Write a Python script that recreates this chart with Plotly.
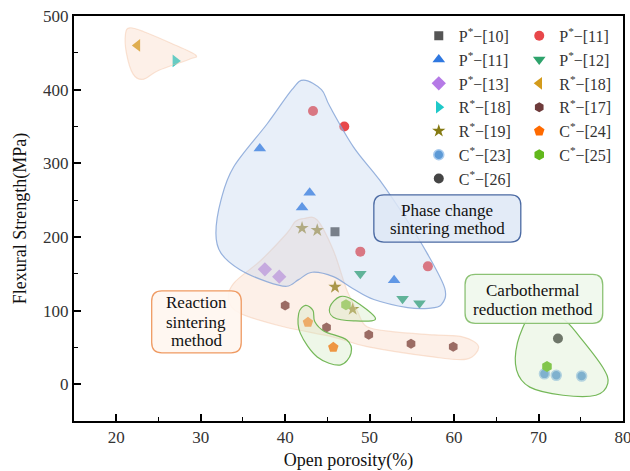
import plotly.graph_objects as go

# ---------------- data ----------------
p10_x = [45.9]; p10_y = [207]
p11c_x = [43.3, 47.0, 48.9, 56.9]; p11c_y = [371, 350, 180, 160]
p11t_x = [37.0, 42.9, 42.0, 52.9]; p11t_y = [320, 260, 240, 141]
p12_x = [48.9, 53.9, 55.9]; p12_y = [150, 116, 110]
p13_x = [37.6, 39.3]; p13_y = [156, 146]
r18l_x = [22.5]; r18l_y = [460]
r18r_x = [27.0]; r18r_y = [439]
r17_x = [40.0, 44.9, 49.9, 54.9, 59.9]; r17_y = [107, 77, 67, 55, 51]
r19_x = [42.0, 43.8, 45.9, 48.0]; r19_y = [212, 209, 132, 102]
c24_x = [42.7, 45.7]; c24_y = [84, 50]
c23_x = [70.7, 72.1, 75.1]; c23_y = [14, 12, 11]
c25_x = [47.2, 71.0]; c25_y = [108, 24]
c26_x = [72.3]; c26_y = [62]

x_ticks = [20, 30, 40, 50, 60, 70, 80]
y_ticks = [0, 100, 200, 300, 400, 500]

FONT = "Liberation Serif"

fig = go.Figure()

def add(name, xs, ys, symbol, color, legend, size=10, line=None):
    mk = dict(symbol=symbol, color=color, size=size)
    mk["line"] = line if line else dict(width=0)
    fig.add_trace(go.Scatter(x=xs, y=ys, mode="markers", name=name,
                             marker=mk, legend=legend))

def lab(letter, ref):
    return f"{letter}<sup>*</sup>−[{ref}]"

add(lab("P", 10), p10_x, p10_y, "square", "#555555", "legend", 9)
add(lab("P", 11), p11c_x, p11c_y, "circle", "#e8474a", "legend2", 10)
add(lab("P", 11), p11t_x, p11t_y, "triangle-up", "#2f78e0", "legend", 11)
add(lab("P", 12), p12_x, p12_y, "triangle-down", "#2ea36c", "legend2", 11)
add(lab("P", 13), p13_x, p13_y, "diamond", "#b57ae6", "legend", 11)
add(lab("R", 18), r18l_x, r18l_y, "triangle-left", "#d39b1c", "legend2", 11)
add(lab("R", 18), r18r_x, r18r_y, "triangle-right", "#1fc9c9", "legend", 11)
add(lab("R", 17), r17_x, r17_y, "hexagon", "#6e3b3b", "legend2", 10)
add(lab("R", 19), r19_x, r19_y, "star", "#857a12", "legend", 10)
add(lab("C", 24), c24_x, c24_y, "pentagon", "#ff6a00", "legend2", 11)
add(lab("C", 23), c23_x, c23_y, "circle", "#5d9ad6", "legend", 10,
    line=dict(width=1.5, color="#a9cbee"))
add(lab("C", 25), c25_x, c25_y, "hexagon", "#62b81c", "legend2", 11)
add(lab("C", 26), c26_x, c26_y, "circle", "#454545", "legend", 10)

# ---------------- region outlines (smoothed closed curves) ----------------
def smooth_path(pts):
    n = len(pts)
    d = f"M{pts[0][0]},{pts[0][1]}"
    for i in range(n):
        p0 = pts[(i - 1) % n]; p1 = pts[i]; p2 = pts[(i + 1) % n]; p3 = pts[(i + 2) % n]
        c1 = (p1[0] + (p2[0] - p0[0]) / 6, p1[1] + (p2[1] - p0[1]) / 6)
        c2 = (p2[0] - (p3[0] - p1[0]) / 6, p2[1] - (p3[1] - p1[1]) / 6)
        d += f" C{c1[0]:.3f},{c1[1]:.3f} {c2[0]:.3f},{c2[1]:.3f} {p2[0]},{p2[1]}"
    return d + " Z"

blue_pts = [(42.2, 413), (44.3, 400), (45.3, 377), (48.1, 322), (51.2, 277), (54.4, 223),
            (56.8, 178), (58.9, 130), (58.5, 108), (57, 103), (54.5, 104), (50.5, 115),
            (48, 130), (45.7, 146), (43.2, 152), (41.6, 142), (40.2, 133), (37.9, 139),
            (34.7, 155), (32.4, 178), (31.8, 205), (32.4, 250), (33.9, 295), (37.9, 354),
            (40.8, 400)]
orange_pts = [(42.2, 225), (43.8, 223), (45.7, 182), (47.3, 128), (48.6, 98), (49.7, 78),
              (53, 71), (57.6, 67), (61.1, 64), (62.9, 51), (61.5, 34), (57.5, 37),
              (49.7, 51), (45.7, 64), (39.8, 78), (34.7, 96), (33.3, 114), (33.9, 137),
              (37.1, 168), (40.2, 205), (41.2, 221)]
topleft_pts = [(21.6, 484), (23.2, 479), (26.5, 463), (29.4, 447), (28.6, 441), (25, 426),
               (23.2, 414), (22.0, 421), (21.2, 450), (21.1, 476)]
green_small_pts = [(45.3, 105), (46.5, 119), (48.1, 114), (50.7, 89), (48.1, 86), (45.7, 91)]
green_j_pts = [(42.4, 107), (43.3, 100), (43.5, 85), (44.6, 72), (47.3, 60), (47.8, 42),
               (46.5, 26), (43.8, 37), (41.8, 69), (41.6, 96)]
carbo_pts = [(68.9, 92), (70.5, 96), (72.9, 89), (74.9, 64), (77.6, 23), (78.2, 1),
             (76.8, -15), (72.9, -15), (68.96, -4), (67.4, 19), (67.5, 56)]

regions = [
    (orange_pts, "rgba(248,210,185,0.33)", "rgba(244,195,165,0.45)"),
    (topleft_pts, "rgba(248,210,185,0.33)", "rgba(244,195,165,0.45)"),
    (blue_pts, "rgba(190,208,238,0.35)", "rgba(128,160,214,0.8)"),
    (green_small_pts, "rgba(205,232,190,0.35)", "rgba(110,180,80,0.95)"),
    (green_j_pts, "rgba(205,232,190,0.35)", "rgba(110,180,80,0.95)"),
    (carbo_pts, "rgba(205,232,190,0.3)", "rgba(110,180,80,0.95)"),
]
shapes = []
for pts, fill, edge in regions:
    shapes.append(dict(type="path", path=smooth_path(pts), xref="x", yref="y",
                       fillcolor=fill, line=dict(color=edge, width=1.2), layer="above"))

# ---------------- labelled boxes ----------------
def rounded_rect(x0, y0, x1, y1, rx, ry):
    return (f"M{x0+rx},{y0} L{x1-rx},{y0} Q{x1},{y0} {x1},{y0+ry} "
            f"L{x1},{y1-ry} Q{x1},{y1} {x1-rx},{y1} L{x0+rx},{y1} "
            f"Q{x0},{y1} {x0},{y1-ry} L{x0},{y0+ry} Q{x0},{y0} {x0+rx},{y0} Z")

boxes = [
    ((50.5, 193, 67.9, 257), "rgba(222,231,246,0.85)", "#4b6aa3",
     ["Phase change", "sintering method"], 59.2, [236.4, 211.5]),
    ((24.2, 42.5, 34.8, 126.8), "rgba(255,246,240,0.9)", "#ef9a62",
     ["Reaction", "sintering", "method"], 29.5, [110.5, 83.3, 58.8]),
    ((61.3, 82.5, 77.6, 149), "rgba(240,248,236,0.9)", "#8cc274",
     ["Carbothermal", "reduction method"], 69.4, [127.7, 101.5]),
]
annotations = []
for (x0, y0, x1, y1), fill, edge, lines, tx, tys in boxes:
    shapes.append(dict(type="path", path=rounded_rect(x0, y0, x1, y1, 1.2, 14),
                       xref="x", yref="y", fillcolor=fill,
                       line=dict(color=edge, width=1.3), layer="above"))
    for t, ty in zip(lines, tys):
        annotations.append(dict(x=tx, y=ty, xref="x", yref="y", text=t, showarrow=False,
                                font=dict(family=FONT, size=17, color="#111111")))

axis_common = dict(showline=True, linecolor="black", linewidth=2, mirror=True,
                   ticks="inside", ticklen=7, tickwidth=1.5, tickcolor="black",
                   showgrid=False, zeroline=False, automargin=False,
                   ticklabeloverflow="allow",
                   tickfont=dict(family=FONT, size=17, color="#333333"),
                   minor=dict(ticks="inside", ticklen=4, tickwidth=1.3, tickcolor="black"))

fig.update_layout(
    width=630, height=471,
    margin=dict(l=74, r=7, t=16, b=50),
    plot_bgcolor="white", paper_bgcolor="white",
    shapes=shapes, annotations=annotations,
    xaxis=dict(range=[15, 80], tickvals=x_ticks,
               title=dict(text="Open porosity(%)", font=dict(family=FONT, size=18, color="#111111"),
                          standoff=12),
               **axis_common),
    yaxis=dict(range=[-50, 500], tickvals=y_ticks,
               title=dict(text="Flexural Strength(MPa)", font=dict(family=FONT, size=18, color="#111111"),
                          standoff=12),
               **axis_common),
    legend=dict(x=0.628, y=0.993, xanchor="left", yanchor="top", bgcolor="rgba(0,0,0,0)",
                font=dict(family=FONT, size=16, color="#333333"), tracegroupgap=0),
    legend2=dict(x=0.811, y=0.993, xanchor="left", yanchor="top", bgcolor="rgba(0,0,0,0)",
                 font=dict(family=FONT, size=16, color="#333333"), tracegroupgap=0),
)
fig.update_xaxes(minor_dtick=5)
fig.update_yaxes(minor_dtick=50)

fig.write_html("out.html", config={"displayModeBar": False},
               post_script="document.body.style.margin='0px';")
